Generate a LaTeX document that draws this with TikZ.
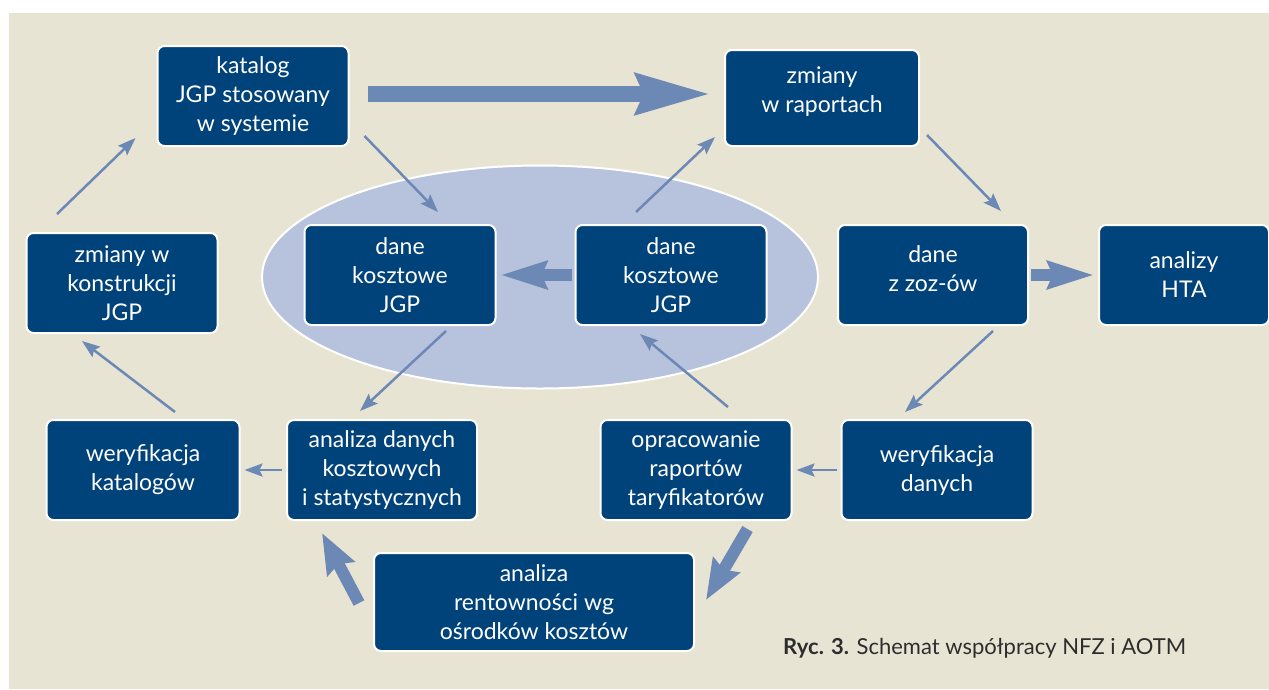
\documentclass[tikz,border=0pt]{standalone}
\usepackage{fontspec}
\setmainfont{Lato}
\usetikzlibrary{arrows.meta, shapes.geometric}
\definecolor{boxblue}{RGB}{0,66,122}
\definecolor{arrowblue}{RGB}{108,136,181}
\definecolor{ovalblue}{RGB}{183,195,221}
\definecolor{paper}{RGB}{232,228,211}
\definecolor{captiongray}{RGB}{45,45,45}

\begin{document}
\begin{tikzpicture}[
            x=1pt, y=-1pt,
            box/.style={rectangle, draw=white, line width=2pt, fill=boxblue, rounded corners=7pt,
                    text=white, align=center, font=\fontsize{23}{29}\selectfont, inner sep=2pt,
                    minimum width=191pt, minimum height=100pt},
            arrow/.style={-{Stealth[length=18pt, width=13pt, inset=3pt]}, line width=2.5pt, arrowblue},
            fatarrow/.style={-{Stealth[length=46pt, width=27pt, inset=5pt]}, line width=12pt, arrowblue},
            ]

            % background
            \fill[white] (0,0) rectangle (1269,689);
            \fill[paper] (9,13) rectangle (1269,689);
            \useasboundingbox (0,0) rectangle (1269,689);

            \node[ellipse, draw=white, line width=2pt, fill=ovalblue, minimum width=556pt, minimum height=223pt] (oval) at (540,277) {};

            % top row
            \node[box] (katalog) at (253,96) {katalog\\JGP stosowany\\w systemie};
            \node[box, minimum width=194pt, minimum height=96pt] (raporty) at (822,98) {zmiany\\w raportach\\[-12pt]};

            % middle row
            \node[box] (konstr) at (122,283) {zmiany w\\konstrukcji\\JGP};
            \node[box] (daneL) at (400,275) {dane\\kosztowe\\JGP};
            \node[box] (daneR) at (671,275) {dane\\kosztowe\\JGP};
            \node[box, minimum width=190pt] (zoz) at (933,275) {dane\\z zoz-ów\\[-17pt]};
            \node[box, minimum width=170pt] (hta) at (1184,275) {analizy\\HTA};

            % bottom row
            \node[box, minimum width=193pt] (werK) at (143,470) {weryfikacja\\katalogów};
            \node[box, minimum width=190pt] (anDan) at (382,470) {analiza danych\\kosztowych\\i statystycznych};
            \node[box] (oprac) at (696,470) {opracowanie\\raportów\\taryfikatorów};
            \node[box] (werD) at (937,470) {weryfikacja\\danych};
            \node[box, minimum width=320pt, minimum height=98pt] (rent) at (534,602) {analiza\\rentowności wg\\ośrodków kosztów};

            \node[anchor=base west, text=captiongray, font=\fontsize{22}{26}\selectfont, inner sep=0pt] (caption) at (783,654) {\textbf{Ryc. 3.} Schemat współpracy NFZ i AOTM};

            % thin arrows
            \draw[arrow] ([shift={(15,-11)}]katalog.south east) -- ([shift={(38,-12)}]daneL.north);
            \draw[arrow] ([shift={(-35,-12)}]daneR.north) -- ([shift={(-9,-10)}]raporty.south west);
            \draw[arrow] ([shift={(7,-12)}]raporty.south east) -- ([shift={(-28,-13)}]zoz.north east);
            \draw[arrow] ([shift={(60,5)}]zoz.south) -- ([shift={(-32,-7)}]werD.north);
            \draw[arrow] ([shift={(-4,0)}]werD.west) -- ([shift={(4,0)}]oprac.east);
            \draw[arrow] ([shift={(32,-12)}]oprac.north) -- ([shift={(-31,8)}]daneR.south);
            \draw[arrow] ([shift={(46,5)}]daneL.south) -- ([shift={(-22,-8)}]anDan.north);
            \draw[arrow] ([shift={(-4,0)}]anDan.west) -- ([shift={(4,0)}]werK.east);
            \draw[arrow] ([shift={(32,-7)}]werK.north) -- ([shift={(-40,7)}]konstr.south);
            \draw[arrow] ([shift={(-65,-18)}]konstr.north) -- ([shift={(-21,-9)}]katalog.south west);

            % thick arrows
            \draw[fatarrow, line width=16pt, -{Stealth[length=74pt, width=39pt, inset=7pt]}] ([shift={(18,-2)}]katalog.east) -- ([shift={(-13,-4)}]raporty.west);
            \draw[fatarrow] ([shift={(-3,0)}]daneR.west) -- ([shift={(4,0)}]daneL.east);
            \draw[fatarrow] ([shift={(2,0)}]zoz.east) -- ([shift={(-4,0)}]hta.west);
            \draw[fatarrow, -{Stealth[length=40pt, width=30pt, inset=5pt]}] ([shift={(-45,8)}]oprac.south east) -- ([shift={(11,-2)}]rent.east);
            \draw[fatarrow, -{Stealth[length=40pt, width=30pt, inset=5pt]}] ([shift={(-14,1)}]rent.west) -- ([shift={(36,12)}]anDan.south west);

        \end{tikzpicture}
\end{document}
